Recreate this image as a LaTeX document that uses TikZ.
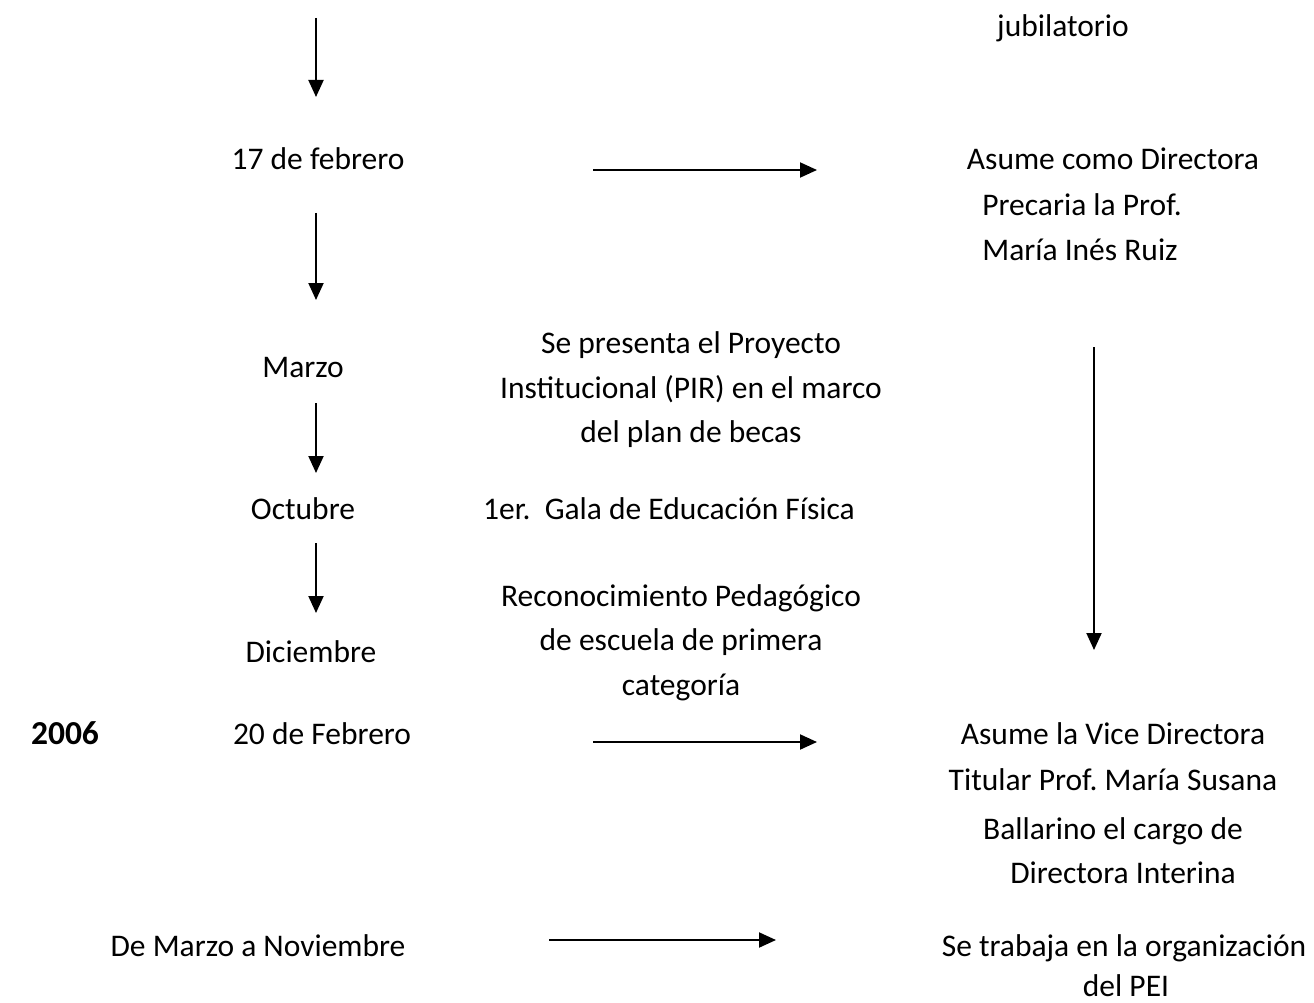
\documentclass[tikz,border=0pt]{standalone}
\usepackage{fontspec}
\setmainfont{Carlito}
\usetikzlibrary{arrows.meta}
\frenchspacing
\begin{document}
\begin{tikzpicture}[x=1pt,y=-1pt,
  txt/.style={font=\fontsize{31.5}{36}\selectfont, inner sep=0pt, anchor=base},
  arr/.style={line width=2pt, -{Triangle[length=17pt,width=15pt]}}]
\useasboundingbox (0,0) rectangle (1314,1003);
% left column
\node[txt] (feb17) at (318,170) {17 de febrero};
\node[txt] (marzo) at (303,377) {Marzo};
\node[txt] (oct) at (303,519) {Octubre};
\node[txt] (dic) at (311,662) {Diciembre};
\node[txt, font=\fontsize{33.5}{38}\selectfont\bfseries] (y2006) at (65,744) {2006};
\node[txt] (feb20) at (322,744) {20 de Febrero};
\node[txt] (marnov) at (258,956) {De Marzo a Noviembre};
% middle column
\node[txt] (pir1) at (691,353) {Se presenta el Proyecto};
\node[txt] (pir2) at (691,398) {Institucional (PIR) en el marco};
\node[txt] (pir3) at (691,442) {del plan de becas};
\node[txt] (gala) at (669,519) {1er.\ \ Gala de Educación Física};
\node[txt] (rec1) at (681,606) {Reconocimiento Pedagógico};
\node[txt] (rec2) at (681,650) {de escuela de primera};
\node[txt] (rec3) at (681,695) {categoría};
% right column
\node[txt] (jub) at (1063,37) {jubilatorio};
\node[txt] (asu1) at (1113,170) {Asume como Directora};
\node[txt] (asu2) at (1082,215) {Precaria la Prof.};
\node[txt] (asu3) at (1080,260) {María Inés Ruiz};
\node[txt] (vic1) at (1113,744) {Asume la Vice Directora};
\node[txt] (vic2) at (1113,790) {Titular Prof. María Susana};
\node[txt] (vic3) at (1113,839) {Ballarino el cargo de};
\node[txt] (vic4) at (1123,883) {Directora Interina};
\node[txt] (pei1) at (1124,956) {Se trabaja en la organización};
\node[txt] (pei2) at (1126,996) {del PEI};
% arrow end points
\coordinate (a1s) at (316,18);  \coordinate (a1e) at (316,97);
\coordinate (a2s) at (316,213); \coordinate (a2e) at (316,300);
\coordinate (a3s) at (316,403); \coordinate (a3e) at (316,473);
\coordinate (a4s) at (316,543); \coordinate (a4e) at (316,613);
\coordinate (h1s) at (593,170); \coordinate (h1e) at (817,170);
\coordinate (h2s) at (593,742); \coordinate (h2e) at (817,742);
\coordinate (h3s) at (549,940); \coordinate (h3e) at (776,940);
\coordinate (v1s) at (1094,347); \coordinate (v1e) at (1094,650);
\draw[arr] (a1s) -- (a1e);
\draw[arr] (a2s) -- (a2e);
\draw[arr] (a3s) -- (a3e);
\draw[arr] (a4s) -- (a4e);
\draw[arr] (h1s) -- (h1e);
\draw[arr] (h2s) -- (h2e);
\draw[arr] (h3s) -- (h3e);
\draw[arr] (v1s) -- (v1e);
\end{tikzpicture}
\end{document}
